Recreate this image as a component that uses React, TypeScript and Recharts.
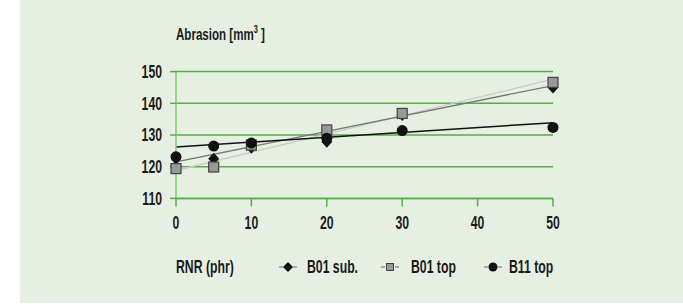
import { ComposedChart, CartesianGrid, Line, Scatter, XAxis, YAxis } from "recharts";

const rnr = [0, 5, 10, 20, 30, 50];
const b01Sub = [120.2, 122.5, 126, 127.9, 136.3, 145.0];
const b01Top = [119.4, 119.9, 126.8, 131.6, 136.8, 146.6];
const b11Top = [123.1, 126.5, 127.5, 129, 131.4, 132.4];

const trendX = [0, 50];
const b01SubTrend = [121.5, 145.6];
const b01TopTrend = [118.8, 147.6];
const b11TopTrend = [126.2, 133.9];

const xTicks = [0, 10, 20, 30, 40, 50];
const yTicks = [110, 120, 130, 140, 150];

const toPoints = (xs: number[], ys: number[]) => xs.map((x, i) => ({ x, y: ys[i] }));

const font = '"Liberation Sans", Arial, sans-serif';
const squeeze = 0.68;
const grid = "#55ae45";
const bg = "#e6f0e2";
const ink = "#1a1a1a";

const Diamond = ({ cx, cy }: any) => (
  <path d={`M${cx},${cy - 6}L${cx + 5.5},${cy}L${cx},${cy + 6}L${cx - 5.5},${cy}Z`} fill="#111" />
);
const Square = ({ cx, cy }: any) => (
  <rect x={cx - 5} y={cy - 5} width={10} height={10} fill="#999" stroke="#444" strokeWidth={1.2} />
);
const Dot = ({ cx, cy }: any) => <circle cx={cx} cy={cy} r={5.5} fill="#111" />;

// condensed look: squeeze the text horizontally around its anchor
const NarrowTick = ({ x, y, payload, textAnchor, verticalAnchor }: any) => (
  <text
    x={x}
    y={y}
    dy={verticalAnchor === "start" ? "0.71em" : "0.36em"}
    textAnchor={textAnchor}
    fontFamily={font}
    fontWeight="bold"
    fontSize={18}
    fill={ink}
    transform={`translate(${x},0) scale(${squeeze},1) translate(${-x},0)`}
  >
    {payload.value}
  </text>
);

function LegendIcon({ kind }: { kind: string }) {
  return (
    <svg width={20} height={12} style={{ position: "absolute", left: 0, top: 3 }}>
      <line x1={1} y1={6} x2={5} y2={6} stroke="#666" strokeWidth={1} />
      <line x1={15} y1={6} x2={19} y2={6} stroke="#666" strokeWidth={1} />
      {kind === "diamond" && <path d="M10,1L15,6L10,11L5,6Z" fill="#111" />}
      {kind === "square" && <rect x={6.5} y={2.5} width={7} height={7} fill="#999" stroke="#444" />}
      {kind === "circle" && <circle cx={10} cy={6} r={4.5} fill="#111" />}
    </svg>
  );
}

const Narrow = ({ left, top, size = 18, children }: any) => (
  <div
    style={{
      position: "absolute",
      left,
      top,
      fontFamily: font,
      fontWeight: "bold",
      fontSize: size,
      lineHeight: 1,
      color: ink,
      whiteSpace: "nowrap",
      transform: `scaleX(${squeeze})`,
      transformOrigin: "0 0",
    }}
  >
    {children}
  </div>
);

export default function App() {
  return (
    <div style={{ position: "absolute", left: 0, top: 0, width: 683, height: 304, background: "#fff" }}>
      <div style={{ position: "absolute", left: 20, top: 0, width: 663, height: 303, background: bg }} />
      <Narrow left={176} top={24} size={17}>
        Abrasion [mm<sup style={{ fontSize: 11, verticalAlign: 7 }}>3</sup> ]
      </Narrow>
      <ComposedChart
        width={683}
        height={304}
        margin={{ top: 71.6, right: 130, bottom: 75.6, left: 0 }}
        style={{ position: "absolute", left: 0, top: 0 }}
      >
        <CartesianGrid vertical={false} stroke={grid} strokeWidth={1.5} />
        <XAxis
          dataKey="x"
          type="number"
          domain={[0, 50]}
          ticks={xTicks}
          interval={0}
          height={30}
          tickSize={8}
          tickMargin={10}
          axisLine={{ stroke: grid, strokeWidth: 1.5 }}
          tickLine={{ stroke: grid, strokeWidth: 1.5 }}
          tick={NarrowTick}
        />
        <YAxis
          type="number"
          domain={[110, 150]}
          ticks={yTicks}
          interval={0}
          width={176}
          tickSize={6}
          tickMargin={8}
          axisLine={{ stroke: "#80c870", strokeWidth: 1.5 }}
          tickLine={{ stroke: grid, strokeWidth: 1.5 }}
          tick={NarrowTick}
        />
        <Line data={toPoints(trendX, b01TopTrend)} dataKey="y" stroke="#c8c8c8" strokeWidth={1.3} dot={false} isAnimationActive={false} />
        <Line data={toPoints(trendX, b01SubTrend)} dataKey="y" stroke="#777" strokeWidth={1.3} dot={false} isAnimationActive={false} />
        <Line data={toPoints(trendX, b11TopTrend)} dataKey="y" stroke="#111" strokeWidth={1.5} dot={false} isAnimationActive={false} />
        <Scatter data={toPoints(rnr, b01Sub)} dataKey="y" shape={Diamond} isAnimationActive={false} />
        <Scatter data={toPoints(rnr, b01Top)} dataKey="y" shape={Square} isAnimationActive={false} />
        <Scatter data={toPoints(rnr, b11Top)} dataKey="y" shape={Dot} isAnimationActive={false} />
      </ComposedChart>
      <Narrow left={176} top={257.5}>RNR (phr)</Narrow>
      <div style={{ position: "absolute", left: 278, top: 258 }}>
        <LegendIcon kind="diamond" />
      </div>
      <Narrow left={307} top={257.5}>B01 sub.</Narrow>
      <div style={{ position: "absolute", left: 380, top: 258 }}>
        <LegendIcon kind="square" />
      </div>
      <Narrow left={411} top={257.5}>B01 top</Narrow>
      <div style={{ position: "absolute", left: 483, top: 258 }}>
        <LegendIcon kind="circle" />
      </div>
      <Narrow left={509} top={257.5}>B11 top</Narrow>
    </div>
  );
}
